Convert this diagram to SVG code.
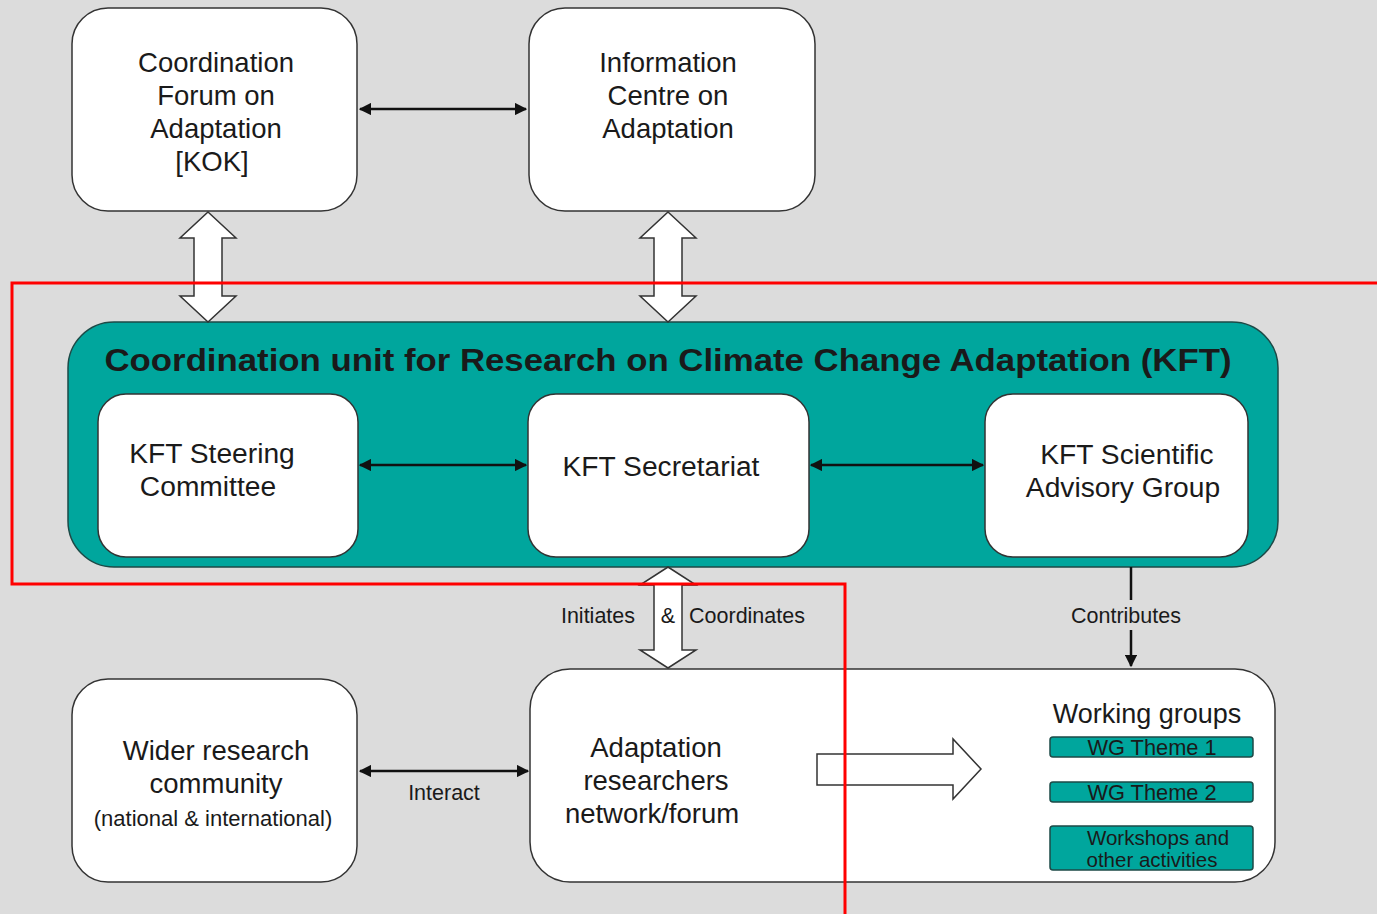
<svg xmlns="http://www.w3.org/2000/svg" width="1377" height="914" viewBox="0 0 1377 914">
<defs>
<style>
.box{fill:#fff;stroke:#333;stroke-width:1.5}
.teal{fill:#00a69d;stroke:#1d4a47;stroke-width:1.5}
.blk{fill:#fff;stroke:#333;stroke-width:1.5;stroke-linejoin:miter}
.t{font-family:"Liberation Sans",Arial,sans-serif;fill:#1a1a1a;text-anchor:middle}
.m{font-size:27.5px}
.i{font-size:28.2px}
.s{font-size:21.5px}
.w{font-size:21.8px}
.ws{font-size:20.5px}
.ln{stroke:#111;stroke-width:2.5;fill:none}
</style>
<marker id="ah" viewBox="0 0 10 10" refX="9" refY="5" markerWidth="5" markerHeight="5" orient="auto-start-reverse" markerUnits="strokeWidth">
<path d="M0,0 L10,5 L0,10 z" fill="#111"/>
</marker>
</defs>
<rect width="1377" height="914" fill="#dcdcdc"/>

<g id="kok">
<rect class="box" x="72" y="8" width="285" height="203" rx="36"/>
<text class="t m" x="216" y="72">Coordination</text>
<text class="t m" x="216" y="105">Forum on</text>
<text class="t m" x="216" y="138">Adaptation</text>
<text class="t m" x="212" y="171">[KOK]</text>
</g>

<g id="info">
<rect class="box" x="529" y="8" width="286" height="203" rx="36"/>
<text class="t m" x="668" y="72">Information</text>
<text class="t m" x="668" y="105">Centre on</text>
<text class="t m" x="668" y="138">Adaptation</text>
</g>

<g id="kft">
<rect class="teal" x="68" y="322" width="1210" height="245" rx="46"/>
<text class="t" x="668" y="371" font-size="32" font-weight="bold" textLength="1127" lengthAdjust="spacingAndGlyphs">Coordination unit for Research on Climate Change Adaptation (KFT)</text>
</g>

<g id="steering">
<rect class="box" x="98" y="394" width="260" height="163" rx="28"/>
<text class="t i" x="212" y="463">KFT Steering</text>
<text class="t i" x="208" y="496">Committee</text>
</g>

<g id="secretariat">
<rect class="box" x="528" y="394" width="281" height="163" rx="28"/>
<text class="t i" x="661" y="476">KFT Secretariat</text>
</g>

<g id="scientific">
<rect class="box" x="985" y="394" width="263" height="163" rx="28"/>
<text class="t i" x="1127" y="464">KFT Scientific</text>
<text class="t i" x="1123" y="497">Advisory Group</text>
</g>

<g id="wider">
<rect class="box" x="72" y="679" width="285" height="203" rx="36"/>
<text class="t m" x="216" y="760">Wider research</text>
<text class="t m" x="216" y="793">community</text>
<text class="t" x="213" y="826" font-size="22">(national &amp; international)</text>
</g>

<g id="network">
<rect class="box" x="530" y="669" width="745" height="213" rx="40"/>
<text class="t m" x="656" y="757">Adaptation</text>
<text class="t m" x="656" y="790">researchers</text>
<text class="t m" x="652" y="823">network/forum</text>
<text class="t" x="1147" y="723" font-size="27">Working groups</text>
</g>

<g id="wg1">
<rect class="teal" x="1050" y="737" width="203" height="20" rx="3"/>
<text class="t w" x="1152" y="755">WG Theme 1</text>
</g>
<g id="wg2">
<rect class="teal" x="1050" y="782" width="203" height="20" rx="3"/>
<text class="t w" x="1152" y="800">WG Theme 2</text>
</g>
<g id="workshops">
<rect class="teal" x="1050" y="826" width="203" height="44" rx="3"/>
<text class="t ws" x="1158" y="845">Workshops and</text>
<text class="t ws" x="1152" y="867">other activities</text>
</g>

<g id="connectors">
<line class="ln" x1="360" y1="109" x2="526" y2="109" marker-start="url(#ah)" marker-end="url(#ah)"/>
<line class="ln" x1="360" y1="465" x2="526" y2="465" marker-start="url(#ah)" marker-end="url(#ah)"/>
<line class="ln" x1="811" y1="465" x2="983" y2="465" marker-start="url(#ah)" marker-end="url(#ah)"/>
<line class="ln" x1="360" y1="771" x2="528" y2="771" marker-start="url(#ah)" marker-end="url(#ah)"/>
<text class="t s" x="444" y="800">Interact</text>
<path class="blk" d="M208,212 L236,238 L222,238 L222,296 L236,296 L208,322 L180,296 L194,296 L194,238 L180,238 Z"/>
<path class="blk" d="M668,212 L696,238 L682,238 L682,296 L696,296 L668,322 L640,296 L654,296 L654,238 L640,238 Z"/>
<path class="blk" d="M668,567 L696,585 L682,585 L682,650 L696,650 L668,668 L640,650 L654,650 L654,585 L640,585 Z"/>
<text class="t s" x="598" y="623">Initiates</text>
<text class="t s" x="668" y="623">&amp;</text>
<text class="t s" x="747" y="623">Coordinates</text>
<line class="ln" x1="1131" y1="567" x2="1131" y2="600"/>
<line class="ln" x1="1131" y1="630" x2="1131" y2="666" marker-end="url(#ah)"/>
<text class="t s" x="1126" y="623">Contributes</text>
<path class="blk" d="M817,754 L953,754 L953,739 L981,769 L953,799 L953,785 L817,785 Z"/>
</g>

<polyline points="1377,283 12,283 12,584 845,584 845,914" fill="none" stroke="#ff0000" stroke-width="3"/>
</svg>
